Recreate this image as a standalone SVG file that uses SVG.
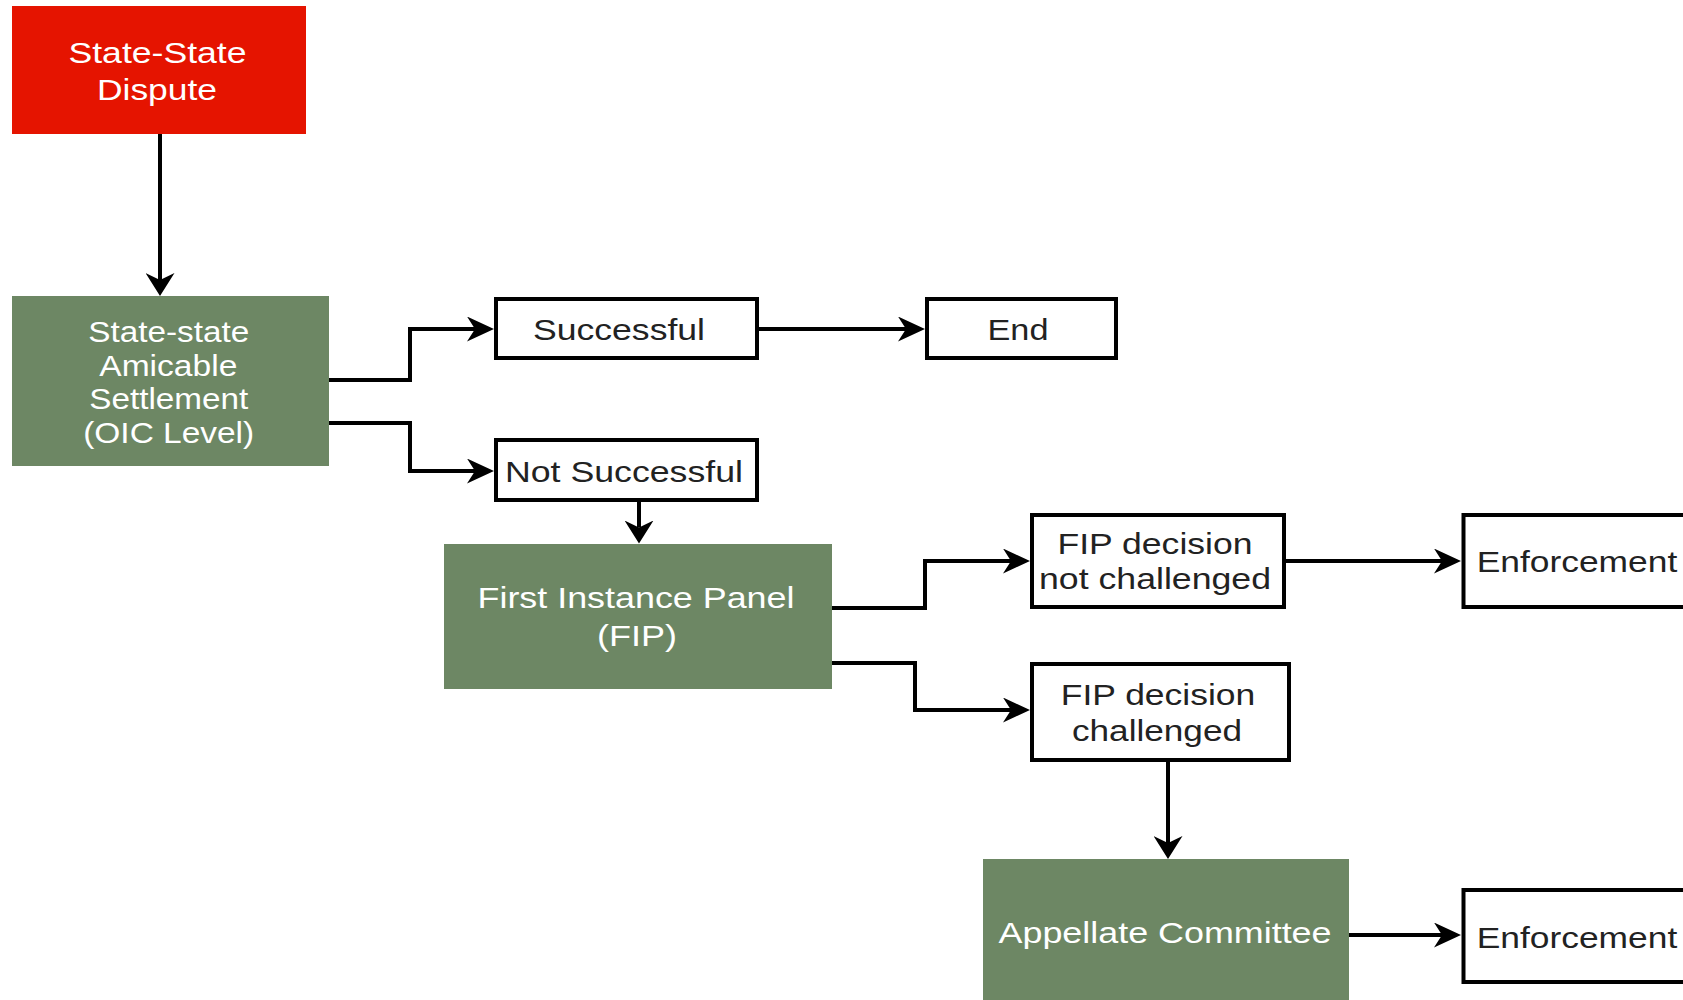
<svg xmlns="http://www.w3.org/2000/svg" width="1683" height="1000" viewBox="0 0 1683 1000">
  <style>
    .red { fill: #e51400; }
    .green { fill: #6d8764; }
    .box { fill: #ffffff; stroke: #000000; stroke-width: 4; }
    .wt { font-family: "Liberation Sans", Arial, sans-serif; font-size: 29px; fill: #ffffff; text-anchor: middle; }
    .bt { font-family: "Liberation Sans", Arial, sans-serif; font-size: 29px; fill: #222222; text-anchor: middle; }
    .conn { fill: none; stroke: #000000; stroke-width: 4; }
  </style>
  <defs>
    <marker id="mh" viewBox="0 0 27 25" markerWidth="27" markerHeight="25" refX="8" refY="12.5" markerUnits="userSpaceOnUse" orient="auto">
      <path d="M27,12.5 L0,0 L8,12.5 L0,25 Z" fill="#000000"/>
    </marker>
    <marker id="mv" viewBox="0 0 23 29" markerWidth="23" markerHeight="29" refX="7" refY="14.5" markerUnits="userSpaceOnUse" orient="auto">
      <path d="M23,14.5 L0,0 L7,14.5 L0,29 Z" fill="#000000"/>
    </marker>
  </defs>

  <g id="connectors">
    <path class="conn" d="M160,134 V280" marker-end="url(#mv)"/>
    <path class="conn" d="M329,380 H410 V329 H475" marker-end="url(#mh)"/>
    <path class="conn" d="M329,423 H410 V471 H475" marker-end="url(#mh)"/>
    <path class="conn" d="M759,329 H906" marker-end="url(#mh)"/>
    <path class="conn" d="M639,502 V527.5" marker-end="url(#mv)"/>
    <path class="conn" d="M832,608 H925 V561 H1011" marker-end="url(#mh)"/>
    <path class="conn" d="M832,663 H915 V710 H1011" marker-end="url(#mh)"/>
    <path class="conn" d="M1286,561 H1442" marker-end="url(#mh)"/>
    <path class="conn" d="M1168,762 V843" marker-end="url(#mv)"/>
    <path class="conn" d="M1349,935 H1442" marker-end="url(#mh)"/>
  </g>

  <g id="dispute">
    <rect class="red" x="12" y="6" width="294" height="128"/>
    <text class="wt" x="157.5" y="62.5" textLength="178" lengthAdjust="spacingAndGlyphs">State-State</text>
    <text class="wt" x="157" y="99.5" textLength="120" lengthAdjust="spacingAndGlyphs">Dispute</text>
  </g>

  <g id="amicable">
    <rect class="green" x="12" y="296" width="317" height="170"/>
    <text class="wt" font-size="28" x="168.8" y="341.7" textLength="161" lengthAdjust="spacingAndGlyphs">State-state</text>
    <text class="wt" font-size="28" x="168.3" y="375.7" textLength="138" lengthAdjust="spacingAndGlyphs">Amicable</text>
    <text class="wt" font-size="28" x="168.8" y="409.3" textLength="159" lengthAdjust="spacingAndGlyphs">Settlement</text>
    <text class="wt" font-size="28" x="168.7" y="442.7" textLength="171" lengthAdjust="spacingAndGlyphs">(OIC Level)</text>
  </g>

  <g id="successful">
    <rect class="box" x="496" y="299" width="261" height="59"/>
    <text class="bt" font-size="30" x="619" y="340" textLength="172" lengthAdjust="spacingAndGlyphs">Successful</text>
  </g>

  <g id="end">
    <rect class="box" x="927" y="299" width="189" height="59"/>
    <text class="bt" font-size="30" x="1018" y="340" textLength="61" lengthAdjust="spacingAndGlyphs">End</text>
  </g>

  <g id="not-successful">
    <rect class="box" x="496" y="440" width="261" height="60"/>
    <text class="bt" font-size="30" x="624" y="481.7" textLength="238" lengthAdjust="spacingAndGlyphs">Not Successful</text>
  </g>

  <g id="fip">
    <rect class="green" x="444" y="544" width="388" height="145"/>
    <text class="wt" x="636" y="608.3" textLength="317" lengthAdjust="spacingAndGlyphs">First Instance Panel</text>
    <text class="wt" x="637" y="646" textLength="80" lengthAdjust="spacingAndGlyphs">(FIP)</text>
  </g>

  <g id="fip-not-challenged">
    <rect class="box" x="1032" y="515" width="252" height="92"/>
    <text class="bt" x="1155" y="554.3" textLength="195" lengthAdjust="spacingAndGlyphs">FIP decision</text>
    <text class="bt" x="1155" y="589.3" textLength="232" lengthAdjust="spacingAndGlyphs">not challenged</text>
  </g>

  <g id="fip-challenged">
    <rect class="box" x="1032" y="664" width="257" height="96"/>
    <text class="bt" x="1158" y="704.5" textLength="194.5" lengthAdjust="spacingAndGlyphs">FIP decision</text>
    <text class="bt" x="1157" y="740.7" textLength="170" lengthAdjust="spacingAndGlyphs">challenged</text>
  </g>

  <g id="appellate">
    <rect class="green" x="983" y="859" width="366" height="200"/>
    <text class="wt" font-size="30" x="1165" y="942.7" textLength="333" lengthAdjust="spacingAndGlyphs">Appellate Committee</text>
  </g>

  <g id="enforcement-1">
    <rect class="box" x="1463.5" y="515" width="260" height="92"/>
    <text class="bt" font-size="30" x="1476.7" y="571.7" text-anchor="start" style="text-anchor:start" textLength="200.6" lengthAdjust="spacingAndGlyphs">Enforcement</text>
  </g>

  <g id="enforcement-2">
    <rect class="box" x="1463.5" y="890" width="260" height="92"/>
    <text class="bt" font-size="30" x="1476.7" y="948.3" text-anchor="start" style="text-anchor:start" textLength="200.6" lengthAdjust="spacingAndGlyphs">Enforcement</text>
  </g>
</svg>
